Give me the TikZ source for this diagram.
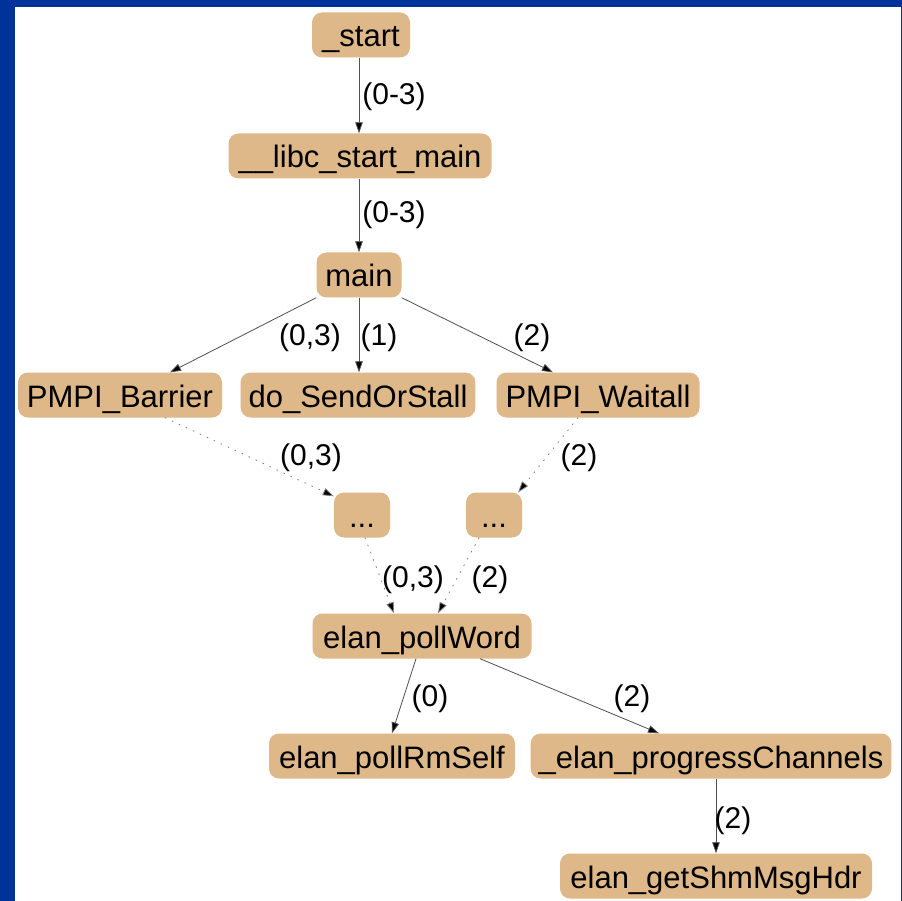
\documentclass[tikz,border=0pt]{standalone}
\usepackage{fontspec}
\setmainfont{Liberation Sans}
\usetikzlibrary{arrows.meta}

\definecolor{frameblue}{RGB}{0,51,153}
\definecolor{boxtan}{RGB}{222,184,136}
\definecolor{edgegray}{RGB}{80,80,80}

\tikzset{
  fn/.style={fill=boxtan, rounded corners=10pt, inner xsep=8pt, inner ysep=0pt,
             minimum height=45pt, text height=30pt, text depth=6pt,
             font=\fontsize{31}{37}\selectfont, text=black},
  call/.style={draw=edgegray, line width=0.8pt,
               -{Triangle[length=11pt,width=7.5pt,fill=black]}},
  hidden/.style={call, dash pattern=on 1.2pt off 6.5pt, line cap=round, draw=gray},
  cnt/.style={font=\fontsize{30}{36}\selectfont, inner sep=0pt, text=black}
}

\begin{document}
\begin{tikzpicture}[x=1pt,y=-1pt]
  % frame and page
  \fill[frameblue] (0,0) rectangle (902,901);
  \fill[white] (15,7) rectangle (901,901);
  \useasboundingbox (0,0) rectangle (902,901);

  % functions of the call tree
  \node[fn, minimum width=98pt]  (start) at (361,35)  {\_start};
  \node[fn, minimum width=263pt] (libc)  at (360,156) {\_\_libc\_start\_main};
  \node[fn, minimum width=85pt]  (main)  at (359,275) {main};
  \node[fn, minimum width=204pt] (pb)    at (120,395) {PMPI\_Barrier};
  \node[fn, minimum width=233pt] (ds)    at (358,395) {do\_SendOrStall};
  \node[fn, minimum width=203pt] (pw)    at (598,395) {PMPI\_Waitall};
  \node[fn, minimum width=56pt]  (d1)    at (362,515) {...};
  \node[fn, minimum width=56pt]  (d2)    at (494,515) {...};
  \node[fn, minimum width=219pt] (poll)  at (422,636) {elan\_pollWord};
  \node[fn, minimum width=246pt] (rm)    at (392,756) {elan\_pollRmSelf};
  \node[fn, minimum width=356pt] (prog)  at (711,756) {\_elan\_progressChannels};
  \node[fn, minimum width=312pt] (shm)   at (716,876) {elan\_getShmMsgHdr};

  % calls
  \draw[call] ([xshift=-2pt]start.south) -- ([xshift=-1pt]libc.north);
  \draw[call] ([xshift=-1pt]libc.south) -- (main.north);
  \draw[call] (main.south west) -- ([xshift=50pt]pb.north);
  \draw[call] (main.south) -- ([xshift=1pt]ds.north);
  \draw[call] (main.south east) -- ([xshift=-45pt]pw.north);
  \draw[hidden] ([xshift=45pt]pb.south) -- ([yshift=-4pt]d1.north west);
  \draw[hidden] ([xshift=-20pt]pw.south) -- ([xshift=-4pt]d2.north east);
  \draw[hidden] ([xshift=3pt]d1.south) -- ([xshift=-28pt]poll.north);
  \draw[hidden] ([xshift=-15pt]d2.south) -- ([xshift=16pt]poll.north);
  \draw[call] ([xshift=-6pt]poll.south) -- (rm.north);
  \draw[call] ([xshift=58pt]poll.south) -- ([xshift=-52pt]prog.north);
  \draw[call] ([xshift=5pt]prog.south) -- (shm.north);

  % call counts
  \node[cnt] (c1)  at (394,97)  {(0-3)};
  \node[cnt] (c2)  at (394,215) {(0-3)};
  \node[cnt] (c3)  at (310,338) {(0,3)};
  \node[cnt] (c4)  at (379,338) {(1)};
  \node[cnt] (c5)  at (532,338) {(2)};
  \node[cnt] (c6)  at (311,458) {(0,3)};
  \node[cnt] (c7)  at (579,458) {(2)};
  \node[cnt] (c8)  at (413,580) {(0,3)};
  \node[cnt] (c9)  at (490,580) {(2)};
  \node[cnt] (c10) at (430,699) {(0)};
  \node[cnt] (c11) at (632,699) {(2)};
  \node[cnt] (c12) at (733,821) {(2)};
\end{tikzpicture}
\end{document}
